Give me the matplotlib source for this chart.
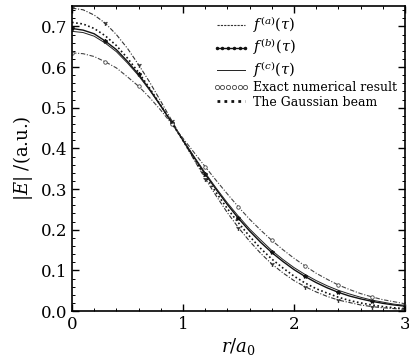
import matplotlib
matplotlib.use("Agg")
import matplotlib.pyplot as plt
from matplotlib.lines import Line2D
from matplotlib.ticker import MultipleLocator

plt.rcParams['font.family'] = ['DejaVu Serif']
plt.rcParams['mathtext.fontset'] = 'dejavuserif'

r = [0.0, 0.1, 0.2, 0.3, 0.4, 0.5, 0.6, 0.7, 0.8, 0.9, 1.0, 1.1, 1.2, 1.3, 1.4, 1.5,
     1.6, 1.7, 1.8, 1.9, 2.0, 2.1, 2.2, 2.3, 2.4, 2.5, 2.6, 2.7, 2.8, 2.9, 3.0]
f_a = [0.745, 0.741, 0.728, 0.708, 0.680, 0.646, 0.606, 0.563, 0.516, 0.468, 0.420,
       0.372, 0.326, 0.283, 0.242, 0.205, 0.172, 0.142, 0.116, 0.094, 0.075,
       0.060, 0.047, 0.036, 0.027, 0.021, 0.015, 0.011, 0.008, 0.006, 0.004]
gauss = [0.710, 0.706, 0.695, 0.677, 0.653, 0.622, 0.587, 0.548, 0.506, 0.463, 0.419,
         0.375, 0.332, 0.291, 0.252, 0.217, 0.184, 0.154, 0.128, 0.106, 0.086,
         0.069, 0.055, 0.044, 0.034, 0.026, 0.020, 0.015, 0.011, 0.008, 0.006]
f_b = [0.695, 0.691, 0.682, 0.664, 0.643, 0.614, 0.582, 0.545, 0.505, 0.463, 0.420,
       0.378, 0.337, 0.299, 0.262, 0.228, 0.197, 0.169, 0.144, 0.122, 0.102,
       0.085, 0.070, 0.057, 0.046, 0.037, 0.030, 0.024, 0.019, 0.015, 0.012]
f_c = [0.688, 0.685, 0.676, 0.659, 0.638, 0.610, 0.579, 0.543, 0.504, 0.463, 0.421,
       0.380, 0.340, 0.302, 0.266, 0.233, 0.202, 0.175, 0.149, 0.127, 0.107,
       0.090, 0.075, 0.062, 0.051, 0.042, 0.034, 0.027, 0.022, 0.017, 0.014]
exact = [0.635, 0.633, 0.626, 0.613, 0.598, 0.576, 0.553, 0.525, 0.494, 0.460, 0.425,
         0.390, 0.355, 0.321, 0.288, 0.256, 0.226, 0.199, 0.174, 0.151, 0.130,
         0.111, 0.093, 0.078, 0.064, 0.053, 0.043, 0.035, 0.028, 0.023, 0.018]

fig = plt.figure(figsize=(4.09, 3.60), dpi=100)
ax = fig.add_axes([0.176, 0.136, 0.814, 0.847])

dashdot = (0, (4, 1.5, 1, 1.5))
ax.plot(r, f_a, color='#333333', lw=0.8, linestyle=dashdot,
        marker='1', markersize=3.5, markevery=3)
ax.plot(r, f_b, color='#111111', lw=1.0, linestyle='-', marker='*',
        markersize=3, markevery=3)
ax.plot(r, f_c, color='#222222', lw=0.7, linestyle='-')
ax.plot(r, exact, color='#444444', lw=0.8, linestyle=dashdot)
ax.plot(r, exact, color='#444444', lw=0, marker='o', markersize=2.5,
        markerfacecolor='white', markeredgewidth=0.6, markevery=3)
ax.plot(r, gauss, color='#111111', lw=1.2, linestyle=(0, (1, 1.5)))

handles = [
    Line2D([], [], color='#333333', lw=0.8, linestyle=(0, (2, 1))),
    Line2D([], [], color='#111111', lw=1.0, marker='.', markersize=3),
    Line2D([], [], color='#222222', lw=0.7),
    Line2D([], [], color='#444444', lw=0, marker='o', markersize=3,
           markerfacecolor='white', markeredgewidth=0.6),
    Line2D([], [], color='#111111', lw=2.0, linestyle=(0, (1, 1.5))),
]
labels = [r'$f^{(a)}(\tau)$', r'$f^{(b)}(\tau)$', r'$f^{(c)}(\tau)$',
          'Exact numerical result', 'The Gaussian beam']
leg = ax.legend(handles, labels, loc='upper right', frameon=False,
                fontsize=9, handlelength=2.9, handletextpad=0.35,
                labelspacing=0.12, borderaxespad=0.2, borderpad=0.4,
                numpoints=6)
for t in leg.get_texts()[:3]:
    t.set_fontsize(10.5)

ax.set_xlim(0, 3)
ax.set_ylim(0, 0.75)
ax.set_xticks([0, 1, 2, 3])
ax.set_yticks([0.0, 0.1, 0.2, 0.3, 0.4, 0.5, 0.6, 0.7])
ax.set_yticklabels(['0.0', '0.1', '0.2', '0.3', '0.4', '0.5', '0.6', '0.7'])
ax.xaxis.set_minor_locator(MultipleLocator(0.2))
ax.yaxis.set_minor_locator(MultipleLocator(0.02))
ax.tick_params(which='both', direction='in', top=True, right=True, labelsize=12)
ax.tick_params(which='major', length=5, width=1)
ax.tick_params(which='minor', length=2.5, width=0.7)
for s in ax.spines.values():
    s.set_linewidth(1.2)

ax.set_xlabel(r'$r/a_0$', fontsize=13, labelpad=2)
ax.set_ylabel(r'$|E|$ /(a.u.)', fontsize=13, labelpad=4)

fig.savefig('out.png', dpi=100)
